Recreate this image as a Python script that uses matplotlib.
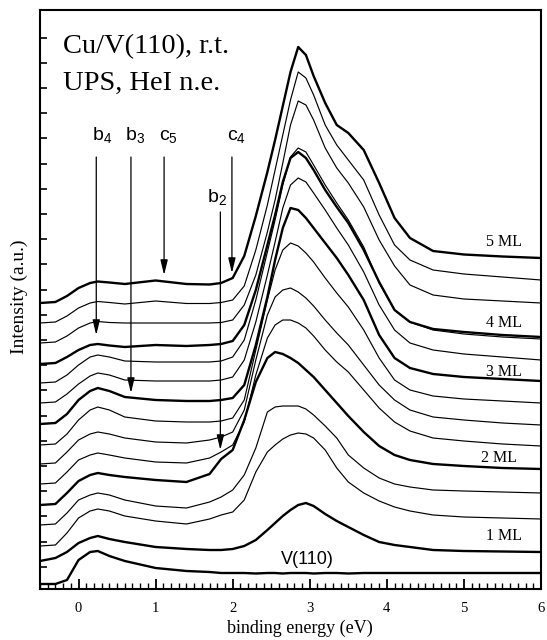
import matplotlib
matplotlib.use("Agg")
import matplotlib.pyplot as plt
from matplotlib.ticker import MultipleLocator, FixedLocator, NullFormatter

plt.rcParams['font.family'] = ['Liberation Serif', 'DejaVu Serif']
plt.rcParams['mathtext.fontset'] = 'custom'
plt.rcParams['mathtext.rm'] = 'Liberation Sans'
plt.rcParams['mathtext.it'] = 'Liberation Sans'
plt.rcParams['mathtext.default'] = 'regular'

# ---------------- data (binding energy in eV, intensity in a.u.) ----------------
energy = [-0.5, -0.3, -0.15, 0.0, 0.15, 0.25, 0.4, 0.6, 1.0, 1.4, 1.7, 1.85, 2.0,
          2.15, 2.3, 2.45, 2.55, 2.65, 2.75, 2.85, 2.95, 3.05, 3.2, 3.35, 3.5,
          3.7, 3.9, 4.1, 4.3, 4.6, 5.0, 5.5, 6.0]

spec_01 = [297, 298, 304, 312, 317, 318.5, 317.5, 316, 319.5, 316, 315.5, 317, 322,
           344, 384, 428, 460, 494, 528, 553, 545, 524, 497, 475, 467,
           450, 417, 382, 362, 349, 345.5, 343.5, 342]          # 5 ML
spec_02 = [277, 278, 284, 292, 297, 298.5, 297.5, 296, 299, 296.5, 296.5, 297.5, 300,
           314, 350, 395, 430, 465, 500, 528, 522, 505, 475, 455, 440,
           420, 385, 355, 340, 330, 326, 323, 320]
spec_03 = [257, 258, 264, 272, 277, 278.5, 277.5, 277, 277, 277, 277, 277.5, 280,
           295, 325, 368, 400, 437, 475, 499, 495, 480, 452, 432, 417,
           393, 360, 334, 315, 305, 301, 299, 297]
spec_04 = [236, 237, 243, 250, 255, 256, 254.5, 253, 255, 254, 255, 256, 259,
           275, 310, 355, 385, 418, 442, 448, 442, 430, 410, 393, 377,
           350, 318, 290, 278, 271, 268, 265, 263]              # 4 ML
spec_05 = [217, 218, 225, 235, 243, 245, 243, 239, 238, 238, 238, 239, 243,
           260, 300, 348, 380, 415, 443, 452, 448, 435, 415, 397, 380,
           353, 317, 290, 278, 270, 266, 263, 261]
spec_06 = [197, 198, 206, 216, 224, 227, 225, 220, 219, 219, 219, 220, 223,
           240, 278, 325, 358, 392, 415, 422, 418, 407, 390, 372, 355,
           328, 295, 270, 257, 250, 246, 243, 240]
spec_07 = [176, 177, 186, 200, 209, 212, 209, 203, 200, 199, 199, 200, 202,
           215, 255, 303, 340, 372, 392, 390, 382, 372, 357, 342, 325,
           300, 265, 242, 232, 226, 223, 221, 219]              # 3 ML
spec_08 = [155, 156, 166, 180, 190, 193, 190, 183, 179, 178, 178, 179, 182,
           200, 250, 300, 330, 350, 357, 354, 347, 338, 322, 307, 293,
           270, 242, 220, 210, 204, 201, 199, 197]
spec_09 = [136, 137, 148, 160, 166, 168, 166, 162, 158, 157, 160, 163, 168,
           190, 240, 285, 303, 310, 312, 308, 302, 294, 280, 267, 255,
           235, 215, 200, 190, 183, 180, 177, 175]
spec_10 = [116, 117, 128, 140, 145, 147, 145, 142, 138, 137, 142, 148, 155,
           178, 225, 262, 275, 280, 280, 277, 272, 264, 250, 238, 228,
           210, 192, 178, 169, 162, 159, 156, 154]
spec_11 = [95, 96, 107, 119, 125, 127, 125, 123, 120, 118, 126, 141, 150,
           180, 218, 242, 248, 246, 242, 237, 230, 223, 210, 197, 184,
           168, 154, 145, 140, 136, 134, 132, 131]              # 2 ML
spec_12 = [75, 76, 87, 100, 105, 107, 105, 100, 94, 92, 98, 103, 110,
           125, 152, 188, 193, 194, 194, 194, 191, 185, 174, 162, 145,
           132, 122, 116, 113, 110, 109, 108, 107]
spec_13 = [54, 55, 67, 82, 89, 91, 89, 84, 79, 76, 81, 85, 88,
           100, 128, 148, 155, 161, 165, 167, 166, 162, 150, 132, 118,
           107, 99, 93, 89, 85, 83, 82, 81]
spec_14 = [39, 42, 48, 57, 62, 64, 61, 58, 53, 51, 50, 50, 51,
           54, 60, 70, 77, 84, 90, 95, 97, 94, 86, 79, 73,
           65, 58, 55, 53, 50, 49, 48.5, 48]                    # 1 ML
spec_15 = [16, 16, 20, 40, 48, 49, 44, 39, 32, 29, 28, 27, 27,
           27, 26.5, 27, 27, 26.5, 27, 27, 27, 26.5, 27, 27, 26.5,
           27, 27, 27, 27, 27, 27, 27, 27]                      # V(110)

spectra = [spec_01, spec_02, spec_03, spec_04, spec_05, spec_06, spec_07, spec_08,
           spec_09, spec_10, spec_11, spec_12, spec_13, spec_14, spec_15]

coverage_labels = ["5 ML", "4 ML", "3 ML", "2 ML", "1 ML", "V(110)"]
feature_labels = ["b$_4$", "b$_3$", "c$_5$", "c$_4$", "b$_2$"]
feature_energy = [0.23, 0.68, 1.11, 1.99, 1.84]
feature_arrow_start = [443, 443, 443, 443, 388]
feature_arrow_end = [265, 207, 325, 327, 150]

# ---------------- styles / positions ----------------
heavy = [True, False, False, True, False, False, True, False, False, False,
         True, False, False, True, True]
label_pos = [(5.75, 358), (5.75, 277), (5.75, 228), (5.69, 142), (5.75, 64)]
feature_text_pos = [(0.171, 460), (0.603, 460), (1.044, 460), (1.922, 460), (1.663, 398)]

fig = plt.figure(figsize=(5.47, 6.4), dpi=100)
ax = fig.add_axes([40 / 547, 1 - 589 / 640, 501 / 547, 579 / 640])

for s, h in zip(spectra, heavy):
    ax.plot(energy, s, color='black', lw=1.7 if h else 0.85,
            solid_joinstyle='round', solid_capstyle='round')

ax.set_xlim(-0.5, 6)
ax.set_ylim(11, 590)

# x ticks
ax.xaxis.set_major_locator(MultipleLocator(1))
ax.xaxis.set_minor_locator(MultipleLocator(0.1))
ax.tick_params(axis='x', which='major', direction='in', length=7, width=1.3,
               labelsize=10.5, pad=9, top=False)
ax.tick_params(axis='x', which='minor', direction='in', length=4, width=1.0, top=False)
# y ticks (no labels)
yt = [33.3 + 25.2 * k for k in range(22)]
ax.yaxis.set_major_locator(FixedLocator(yt))
ax.yaxis.set_major_formatter(NullFormatter())
ax.tick_params(axis='y', which='major', direction='in', length=5, width=1.2, right=False)

for sp in ax.spines.values():
    sp.set_linewidth(1.5)

# coverage labels
for (x, y), t in zip(label_pos, coverage_labels[:5]):
    ax.text(x, y, t, ha='right', va='center', fontsize=11.5)
ax.text(2.97, 40, coverage_labels[5], ha='center', va='center', fontsize=13,
        family='Liberation Sans')

# feature arrows and labels
for lab, e, y0, y1, (tx, ty) in zip(feature_labels, feature_energy, feature_arrow_start,
                                    feature_arrow_end, feature_text_pos):
    ax.annotate('', xy=(e, y1), xytext=(e, y0),
                arrowprops=dict(arrowstyle='-|>,head_length=0.9,head_width=0.22',
                                color='black', lw=0.9, shrinkA=0, shrinkB=0,
                                mutation_scale=10))
    ax.text(tx, ty, lab, ha='left', va='baseline', fontsize=14, family='Liberation Sans')

# titles
fig.text(63 / 547, 1 - 53 / 640, "Cu/V(110), r.t.", fontsize=20.5, va='baseline')
fig.text(63 / 547, 1 - 90 / 640, "UPS, HeI n.e.", fontsize=20.5, va='baseline')

fig.text(19 / 547, 1 - 297 / 640, "Intensity (a.u.)", rotation=90, ha='center',
         va='center', fontsize=14)
fig.text(300 / 547, 1 - 628 / 640, "binding energy (eV)", ha='center', va='center',
         fontsize=13)

fig.savefig("out.png", dpi=100)
